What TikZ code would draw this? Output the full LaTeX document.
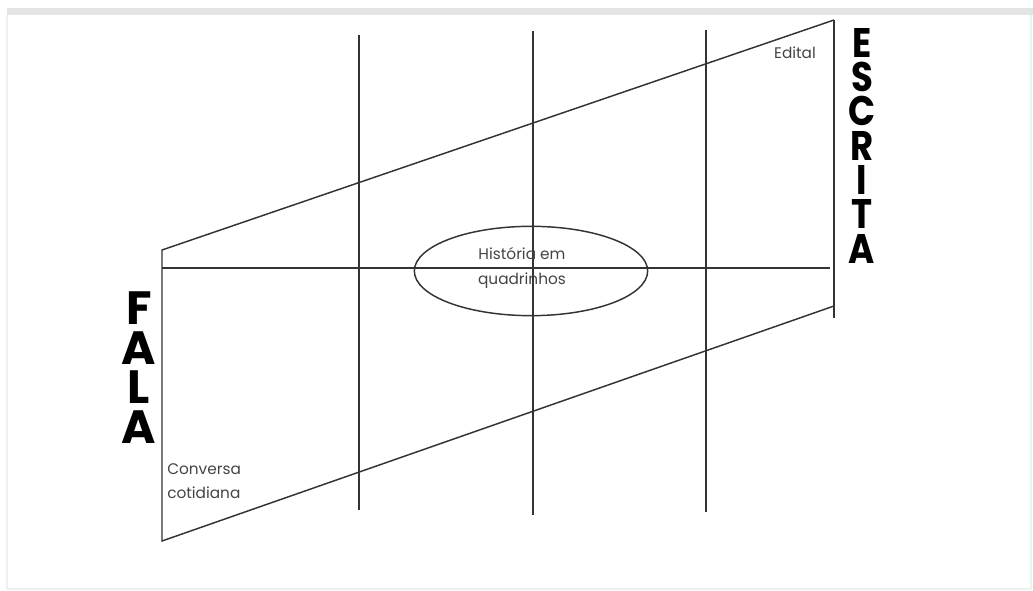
\documentclass[tikz,border=0pt]{standalone}
\usepackage{fontspec}
\setmainfont{Poppins}
\newfontfamily\narrowfont[FakeStretch=0.86]{Poppins}
\definecolor{FrameGray}{RGB}{228,228,228}
\definecolor{EdgeGray}{RGB}{240,240,240}
\definecolor{NoteGray}{RGB}{68,68,68}
\usetikzlibrary{shapes.geometric}

\begin{document}
\begin{tikzpicture}[x=0.75pt, y=-0.75pt,
      every node/.style={align=center},
      axis/.style={draw=black!80, line width=1.1pt},
      bigletter/.style={font=\bfseries\fontsize{35}{35}\selectfont, inner sep=0pt,
                        text height=24.5pt, text depth=0pt, anchor=north},
      bigletter2/.style={font=\narrowfont\bfseries\fontsize{31}{31}\selectfont, inner sep=0pt,
                        text height=21.8pt, text depth=0pt, anchor=north},
      note/.style={font=\fontsize{11.5}{18.5}\selectfont, text=NoteGray, inner sep=0pt},
      genre/.style={draw=black!80, line width=1.1pt, ellipse,
                    minimum width=175pt, minimum height=67pt, inner sep=0pt}
  ]
    \useasboundingbox (0,0) rectangle (1033,591);
    % frame of the screenshot
    \fill[FrameGray] (7,8) rectangle (1033,15);
    \draw[EdgeGray, line width=0.8pt] (7,15) -- (7,589) -- (1031,589) -- (1031,15);

    % corners of the band
    \coordinate (tl) at (162,250);
    \coordinate (tr) at (834,20);
    \coordinate (br) at (834,306);
    \coordinate (bl) at (162,541);
    \coordinate (rend) at (834,318);
    \coordinate (mid1) at (162,268);
    \coordinate (mid2) at (830,268);

    \draw[axis] (tr) -- (tl) -- (bl) -- (br);
    \draw[axis] (tr) -- (rend);
    \draw[axis] (mid1) -- (mid2);

    % vertical dividers
    \coordinate (v1a) at (359,35);  \coordinate (v1b) at (359,510);
    \coordinate (v2a) at (533,31);  \coordinate (v2b) at (533,515);
    \coordinate (v3a) at (706,30);  \coordinate (v3b) at (706,512);
    \draw[axis] (v1a) -- (v1b);
    \draw[axis] (v2a) -- (v2b);
    \draw[axis] (v3a) -- (v3b);

    \node[genre] (hq) at (531,271) {};
    \node[note] (hqtext) at (522,268) {História em\\quadrinhos};
    \node[note] (edital) at (795,53) {Edital};
    \node[note, anchor=west, align=left] (conversa) at (167,481) {Conversa\\cotidiana};

    % stacked words
    \foreach \ch [count=\i] in {F,A,L,A}
      \node[bigletter] (fala\i) at (139,{292+39.5*(\i-1)}) {\ch};
    \foreach \ch [count=\i] in {E,S,C,R,I,T,A}
      \node[bigletter2] (escrita\i) at (862,{28+34.3*(\i-1)}) {\ch};
  \end{tikzpicture}
\end{document}
